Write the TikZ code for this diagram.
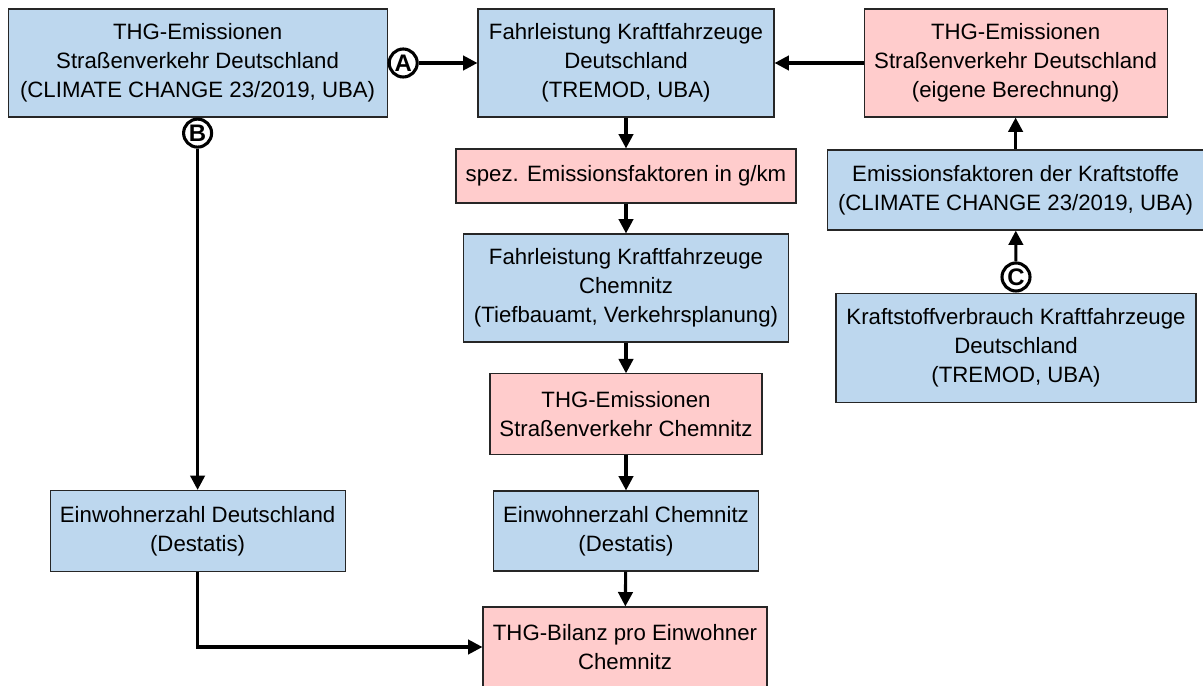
\documentclass[tikz,border=0pt]{standalone}
\usepackage{fontspec}
\setmainfont{Liberation Sans}
\usetikzlibrary{positioning,arrows.meta}
\usepackage{xcolor}
\definecolor{srcblue}{HTML}{BDD7EE}
\definecolor{resred}{HTML}{FFCCCC}

\begin{document}
\begin{tikzpicture}[
  box/.style={draw=black!85, line width=0.8pt, inner sep=0pt, align=center, font=\fontsize{15.8}{20.6}\selectfont},
  src/.style={box, fill=srcblue},
  res/.style={box, fill=resred},
  flow/.style={-{Triangle[length=3.6mm,width=3.6mm]}, line width=2.2pt},
  letter/.style={circle, draw, line width=2.2pt, fill=white, inner sep=0pt, minimum size=0.7cm, font=\bfseries\fontsize{17}{17}\selectfont}
]
  \clip (0,0) rectangle (30.075,-17.15);
  \node[src, minimum width=9.475cm, minimum height=2.7cm] (thgde) at (4.94,-1.575) {THG-Emissionen\\Straßenverkehr Deutschland\\(CLIMATE CHANGE 23/2019, UBA)};
  \node[src, minimum width=7.4cm, minimum height=2.7cm] (fahrde) at (15.65,-1.575) {Fahrleistung Kraftfahrzeuge\\Deutschland\\(TREMOD, UBA)};
  \node[res, minimum width=7.575cm, minimum height=2.7cm] (thgeig) at (25.39,-1.575) {THG-Emissionen\\Straßenverkehr Deutschland\\(eigene Berechnung)};
  \node[res, minimum width=8.5cm, minimum height=1.35cm] (spez) at (15.65,-4.4) {spez. Emissionsfaktoren in g/km};
  \node[src, minimum width=8.125cm, minimum height=2.7cm] (fahrch) at (15.65,-7.2) {Fahrleistung Kraftfahrzeuge\\Chemnitz\\(Tiefbauamt, Verkehrsplanung)};
  \node[res, minimum width=6.8cm, minimum height=2.025cm] (thgch) at (15.65,-10.36) {THG-Emissionen\\Straßenverkehr Chemnitz};
  \node[src, minimum width=6.625cm, minimum height=2cm] (ewch) at (15.65,-13.275) {Einwohnerzahl Chemnitz\\(Destatis)};
  \node[res, minimum width=7.1cm, minimum height=2cm] (bilanz) at (15.625,-16.175) {THG-Bilanz pro Einwohner\\Chemnitz};
  \node[src, minimum width=7.375cm, minimum height=2.025cm] (ewde) at (4.94,-13.275) {Einwohnerzahl Deutschland\\(Destatis)};
  \node[src, minimum width=9.4cm, minimum height=2cm] (emfak) at (25.39,-4.75) {Emissionsfaktoren der Kraftstoffe\\(CLIMATE CHANGE 23/2019, UBA)};
  \node[src, minimum width=9cm, minimum height=2.725cm] (kraft) at (25.4,-8.69) {Kraftstoffverbrauch Kraftfahrzeuge\\Deutschland\\(TREMOD, UBA)};

  \node[letter, right=0pt of thgde] (ca) {A};
  \node[letter, below=0pt of thgde] (cb) {B};
  \node[letter, above=0pt of kraft] (cc) {C};

  \draw[flow] (ca) -- (fahrde);
  \draw[flow] (thgeig) -- (fahrde);
  \draw[flow] (fahrde) -- (spez);
  \draw[flow] (spez) -- (fahrch);
  \draw[flow] (fahrch) -- (thgch);
  \draw[flow] (thgch) -- (ewch);
  \draw[flow] (ewch) -- (bilanz);
  \draw[flow] (cb) -- (ewde);
  \draw[flow] (ewde.south) |- (bilanz.west);
  \draw[flow] (emfak) -- (thgeig);
  \draw[flow] (cc) -- (emfak);
\end{tikzpicture}
\end{document}
